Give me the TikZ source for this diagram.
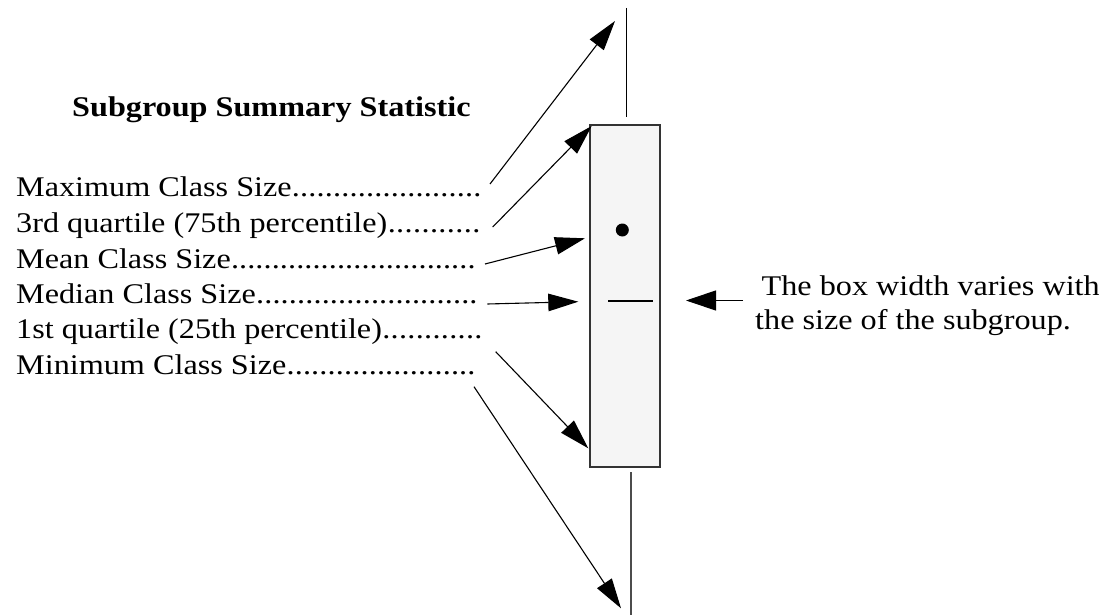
\documentclass[tikz,border=0pt]{standalone}
\usepackage{fontspec}
\setmainfont[FakeStretch=1.13]{Liberation Serif}
\usetikzlibrary{arrows.meta}
\newcommand\mydotline[2]{\makebox[#1][l]{#2\xleaders\hbox to 8pt{\hss.\hss}\hfill}}
\begin{document}
\begin{tikzpicture}[x=1pt,y=-1pt,
  lbl/.style={font=\fontsize{28.5}{30}\selectfont, inner sep=0pt, anchor=base west},
  arr/.style={-{Triangle[length=30pt,width=17.5pt]}, line width=1.1pt},
  boxst/.style={draw=black!80, line width=1.2pt, fill=black!4, minimum width=70pt, minimum height=342pt, inner sep=0pt},
  whisk/.style={line width=1.2pt}
 ]
\useasboundingbox (0,0) rectangle (1099,615);
% title
\node[lbl, font=\fontsize{28.5}{30}\selectfont\bfseries] (title) at (72,116.7) {Subgroup Summary Statistic};
% labels
\node[lbl] (lmax) at (16,196) {\mydotline{465.5pt}{Maximum Class Size}};
\node[lbl] (lq3) at (16,232) {\mydotline{464.5pt}{3rd quartile (75th percentile)}};
\node[lbl] (lmean) at (16,268) {\mydotline{459.5pt}{Mean Class Size}};
\node[lbl] (lmed) at (16,303) {\mydotline{461.5pt}{Median Class Size}};
\node[lbl] (lq1) at (16,338) {\mydotline{466.5pt}{1st quartile (25th percentile)}};
\node[lbl] (lmin) at (16,374) {\mydotline{459.5pt}{Minimum Class Size}};
% box
\node[boxst] (box) at (625,296) {};
\coordinate (tw1) at (626.7,8);
\coordinate (tw2) at (626.7,117);
\draw[whisk] (tw1) -- (tw2);
\coordinate (bw1) at (630.7,472);
\coordinate (bw2) at (630.7,615);
\draw[whisk, draw=black!70, line width=1.6pt] (bw1) -- (bw2);
\node[circle, fill=black, minimum size=13pt, inner sep=0pt] (meandot) at (622.3,230) {};
\coordinate (md1) at (608,301);
\coordinate (md2) at (652.7,301);
\draw[line width=1.1pt] (md1) -- (md2);
% arrow endpoints
\coordinate (a1s) at (490,184);   \coordinate (a1e) at (615,21);
\coordinate (a2s) at (492.7,227); \coordinate (a2e) at (591.7,126);
\coordinate (a3s) at (485,264);   \coordinate (a3e) at (585,238.3);
\coordinate (a4s) at (487.3,304); \coordinate (a4e) at (578.3,301.7);
\coordinate (a5s) at (495.7,351.7); \coordinate (a5e) at (588.3,448.3);
\coordinate (a6s) at (474,386.7); \coordinate (a6e) at (621,608.3);
\coordinate (a7s) at (743,300.5); \coordinate (a7e) at (686,300.5);
\draw[arr] (a1s) -- (a1e);
\draw[arr] (a2s) -- (a2e);
\draw[arr] (a3s) -- (a3e);
\draw[arr] (a4s) -- (a4e);
\draw[arr] (a5s) -- (a5e);
\draw[arr] (a6s) -- (a6e);
\draw[arr, -{Triangle[length=30pt,width=20pt]}] (a7s) -- (a7e);
% right note
\node[lbl] (note1) at (761.5,295) {The box width varies with};
\node[lbl] (note2) at (755,329.5) {the size of the subgroup.};
\end{tikzpicture}
\end{document}
